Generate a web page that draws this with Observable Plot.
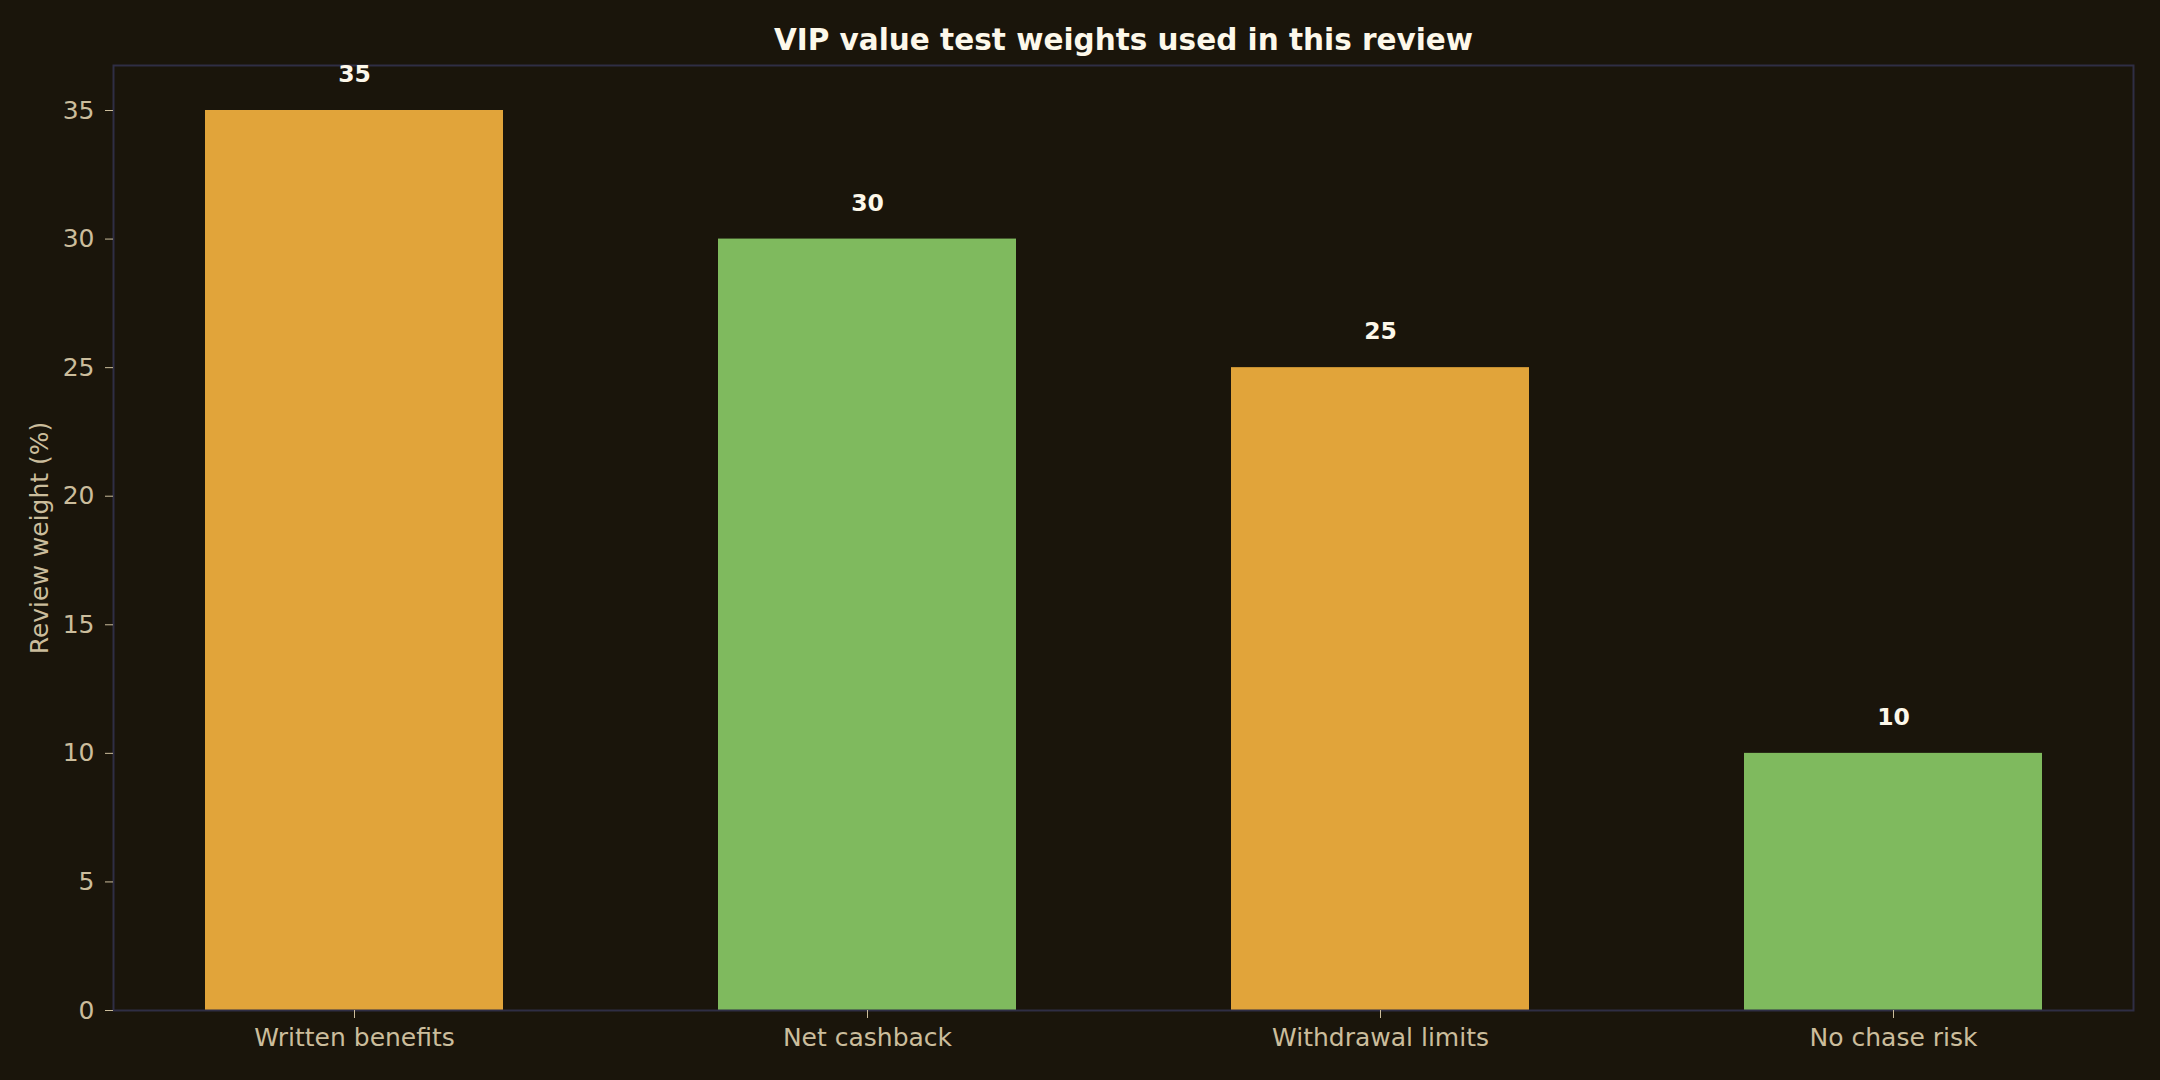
<!DOCTYPE html>
<html>
<head>
<meta charset="utf-8">
<script src="https://cdn.jsdelivr.net/npm/d3@7"></script>
<script src="https://cdn.jsdelivr.net/npm/@observablehq/plot@0.6"></script>
<style>
  html, body { margin: 0; padding: 0; background: #1a150b; }
  #chart svg { display: block; }
</style>
</head>
<body>
<div id="chart"></div>
<script>
const categories = ["Written benefits", "Net cashback", "Withdrawal limits", "No chase risk"];
const weights = [35, 30, 25, 10];
const barColors = ["#e1a43a", "#7fba5e", "#e1a43a", "#7fba5e"];
const yTicks = [0, 5, 10, 15, 20, 25, 30, 35];
const titleText = "VIP value test weights used in this review";
const yLabel = "Review weight (%)";

const data = categories.map((c, i) => ({category: c, weight: weights[i]}));

const chart = Plot.plot({
  width: 2160,
  height: 1080,
  marginLeft: 113,
  marginRight: 27,
  marginTop: 65,
  marginBottom: 70,
  style: {
    background: "#1a150b",
    color: "#cbbd9c",
    fontFamily: "DejaVu Sans, sans-serif",
    fontSize: "25px"
  },
  x: {domain: categories, paddingInner: 0.42, paddingOuter: 0.175, label: null},
  y: {domain: [0, 36.75], label: null},
  color: {domain: categories, range: barColors},
  marks: [
    Plot.barY(data, {x: "category", y: "weight", fill: "category"}),
    Plot.frame({stroke: "#2f2e45", strokeWidth: 2}),
    Plot.axisX({tickSize: 8, tickPadding: 10, fontSize: 25, stroke: "#cbbd9c", label: null}),
    Plot.axisY({ticks: yTicks, tickSize: 8, tickPadding: 11, fontSize: 25, stroke: "#cbbd9c", label: null}),
    Plot.text([yLabel], {frameAnchor: "left", text: d => d, rotate: -90, textAnchor: "middle", dx: -74, fontSize: 25, fill: "#cbbd9c"}),
    Plot.text(data, {x: "category", y: "weight", text: d => String(d.weight), dy: -36, fontSize: 23.5, fontWeight: "bold", fill: "#fdf8ea"}),
    Plot.text([titleText], {frameAnchor: "top", text: d => d, dy: -36, fontSize: 29.5, fontWeight: "bold", fill: "#fdf8ea"})
  ]
});
document.getElementById("chart").appendChild(chart);
</script>
</body>
</html>
